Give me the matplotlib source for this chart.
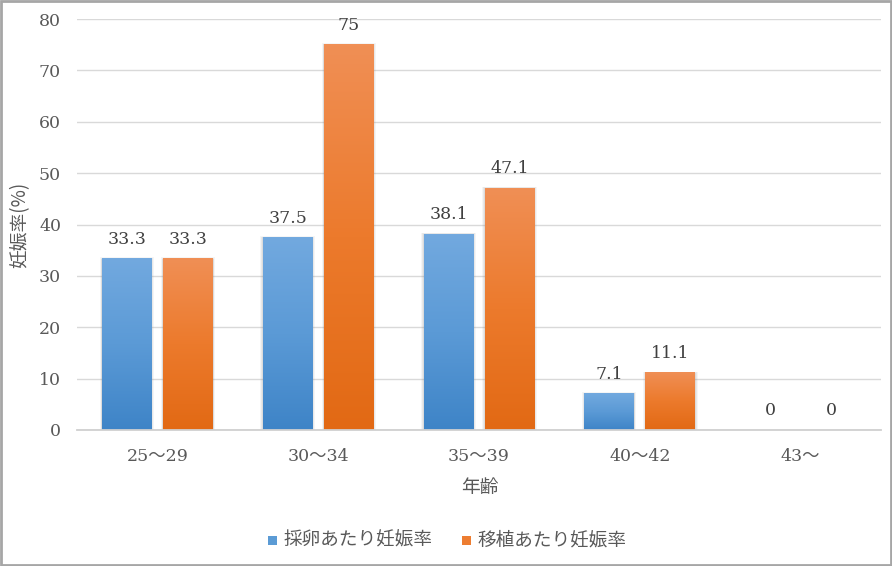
import matplotlib
matplotlib.use("Agg")
import matplotlib.pyplot as plt
import numpy as np
from matplotlib.patches import Rectangle
from matplotlib.colors import LinearSegmentedColormap

categories = ["25～29", "30～34", "35～39", "40～42", "43～"]
series_names = ["採卵あたり妊娠率", "移植あたり妊娠率"]
egg_rate = [33.3, 37.5, 38.1, 7.1, 0]
transfer_rate = [33.3, 75, 47.1, 11.1, 0]
labels_egg = ["33.3", "37.5", "38.1", "7.1", "0"]
labels_transfer = ["33.3", "75", "47.1", "11.1", "0"]

serif = ["DejaVu Serif", "Noto Sans CJK JP"]
cjk = ["Noto Sans CJK JP", "DejaVu Sans"]

fig = plt.figure(figsize=(8.92, 5.66), dpi=100)
ax = fig.add_axes([77/892, 1-430/566, (881-77)/892, (430-19)/566])

ax.set_xlim(-0.5, 4.5)
ax.set_ylim(0, 80)

cmaps = [
    LinearSegmentedColormap.from_list("b", ["#3e84c7", "#5b9ad6", "#72a9df"]),
    LinearSegmentedColormap.from_list("o", ["#e26914", "#ec7a2c", "#f08f55"]),
]

w = 0.31
off = 0.19
x = np.arange(len(categories))
grad = np.tile(np.linspace(0, 1, 256).reshape(-1, 1), (1, 2))

for si, (vals, labs) in enumerate([(egg_rate, labels_egg), (transfer_rate, labels_transfer)]):
    xs = x + (-off if si == 0 else off)
    bars = ax.bar(xs, vals, width=w, color="none", linewidth=0, zorder=3)
    for b, v, lab in zip(bars, vals, labs):
        x0 = b.get_x()
        if v > 0:
            # soft shadow
            for k, a in [(0.014, 0.07), (0.008, 0.10), (0.004, 0.12)]:
                ax.add_patch(Rectangle((x0 - k, 0), w + 2*k, v + k*20, facecolor="#7f7f7f",
                                       alpha=a, edgecolor="none", zorder=2.5))
            ax.imshow(grad, cmap=cmaps[si], origin="lower", aspect="auto",
                      extent=[x0, x0 + w, 0, v], zorder=3.5, interpolation="nearest")
        ax.text(b.get_x() + w/2, v + 2.1, lab, ha="center", va="bottom",
                fontsize=12.5, color="#404040", family=serif, zorder=5)

ax.set_xlim(-0.5, 4.5)
ax.set_ylim(0, 80)
ax.set_yticks(range(0, 81, 10))
ax.set_xticks(x)
ax.set_xticklabels(categories)
for t in ax.get_xticklabels():
    t.set_family(serif)
    t.set_fontsize(12.5)
    t.set_color("#595959")
for t in ax.get_yticklabels():
    t.set_family(serif)
    t.set_fontsize(12.5)
    t.set_color("#595959")
ax.tick_params(axis="both", length=0)
ax.tick_params(axis="x", pad=13)
ax.tick_params(axis="y", pad=11.5)
ax.yaxis.grid(True, color="#d9d9d9", linewidth=1, zorder=0)
ax.set_axisbelow(True)
for s in ["top", "right", "left"]:
    ax.spines[s].set_visible(False)
ax.spines["bottom"].set_color("#d0d0d0")
ax.spines["bottom"].set_linewidth(1.3)
ax.spines["bottom"].set_zorder(6)

fig.text(20/892, 1-225/566, "妊娠率(%)", rotation=90, ha="center", va="center",
         fontsize=13.5, color="#595959", family=cjk)
fig.text(480/892, 1-487/566, "年齢", ha="center", va="center",
         fontsize=13.5, color="#595959", family=cjk)

# legend
ly = 1-540/566
fig.patches.append(Rectangle((268/892, ly - 4.5/566), 9/892, 9/566, transform=fig.transFigure,
                             facecolor="#5b9bd5", edgecolor="none"))
fig.text(284/892, ly, series_names[0], ha="left", va="center", fontsize=13.4,
         color="#595959", family=cjk)
fig.patches.append(Rectangle((462/892, ly - 4.5/566), 9/892, 9/566, transform=fig.transFigure,
                             facecolor="#ed7d31", edgecolor="none"))
fig.text(477/892, ly, series_names[1], ha="left", va="center", fontsize=13.4,
         color="#595959", family=cjk)

# figure border
fig.patches.append(Rectangle((0.001, 0.001), 0.998, 0.998, transform=fig.transFigure,
                             facecolor="none", edgecolor="#a6a6a6", linewidth=2))

fig.savefig("out.png", dpi=100)
